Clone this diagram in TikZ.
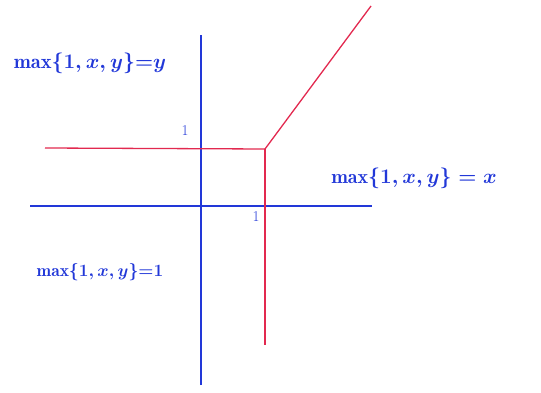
\documentclass[tikz,border=0pt]{standalone}
\usepackage{fontspec}
\begin{document}
\begin{tikzpicture}[x=1pt,y=-1pt,
  axis/.style={draw=axisblue,line width=1.3pt},
  redline/.style={draw=graphred,line width=1.3pt},
  lbl/.style={text=axisblue,inner sep=0pt},
  tick/.style={text=axisblue,font=\fontsize{15}{17}\selectfont,inner sep=0pt}]
\definecolor{axisblue}{HTML}{2238D8}
\definecolor{graphred}{HTML}{E2294F}
\useasboundingbox (0,0) rectangle (541,393);
% axes
\coordinate (yb) at (201,385);
\coordinate (yt) at (201,35);
\coordinate (xl) at (30,206);
\coordinate (xr) at (372,206);
\draw[axis] (yb) -- (yt);
\draw[axis] (xl) -- (xr);
% red curve
\coordinate (corner) at (265,149);
\coordinate (hl) at (45,148);
\coordinate (vb) at (265,345);
\coordinate (dt) at (371,6);
\draw[redline] (hl) -- (corner);
\draw[redline] (corner) -- (vb);
\draw[redline] (corner) -- (dt);
% ticks
\node[tick] (t1) at (185,131) {1};
\node[tick] (t2) at (256,217) {1};
% labels
\node[lbl,font=\fontsize{20.5}{24}\selectfont\boldmath] (ly) at (90,63) {$\max\{1,x,y\}{=}y$};
\node[lbl,font=\fontsize{20}{24}\selectfont\boldmath] (lx) at (414,178) {$\max\{1,x,y\}=x$};
\node[lbl,font=\fontsize{17.5}{21}\selectfont\boldmath] (l1) at (100,272) {$\max\{1,x,y\}{=}1$};
\end{tikzpicture}
\end{document}
